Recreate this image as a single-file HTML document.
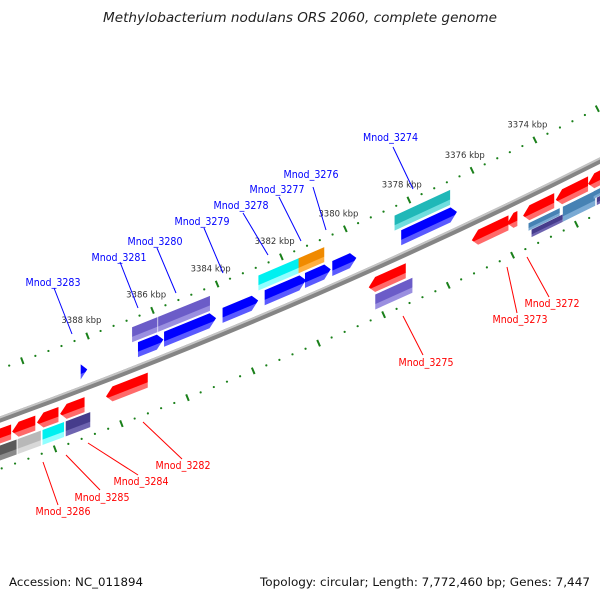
<!DOCTYPE html>
<html><head><meta charset="utf-8"><style>
html,body{margin:0;padding:0;background:#fff;}
svg{display:block;font-family:"DejaVu Sans","Liberation Sans",sans-serif;}
</style></head><body>
<svg id="chart" width="600" height="600" viewBox="0 0 600 600" xmlns="http://www.w3.org/2000/svg">
<rect width="600" height="600" fill="#fff"/>
<text x="300" y="22" text-anchor="middle" font-size="13" font-style="italic" fill="#222" textLength="394" lengthAdjust="spacingAndGlyphs">Methylobacterium nodulans ORS 2060, complete genome</text>
<g id="tracks"></g>
<g id="genes"></g>
<g id="labels" font-size="10.5">
<g fill="#0000ff">
<line x1="393" y1="147" x2="413" y2="189" stroke="#0000ff"/>
<text x="390.5" y="141" text-anchor="middle" textLength="55" lengthAdjust="spacingAndGlyphs">Mnod_3274</text>
<line x1="313" y1="187" x2="326" y2="230" stroke="#0000ff"/>
<text x="311" y="178" text-anchor="middle" textLength="55" lengthAdjust="spacingAndGlyphs">Mnod_3276</text>
<line x1="279" y1="197" x2="301" y2="241" stroke="#0000ff"/>
<text x="277" y="193" text-anchor="middle" textLength="55" lengthAdjust="spacingAndGlyphs">Mnod_3277</text>
<line x1="243" y1="213" x2="268" y2="255" stroke="#0000ff"/>
<text x="241" y="209" text-anchor="middle" textLength="55" lengthAdjust="spacingAndGlyphs">Mnod_3278</text>
<line x1="204" y1="228" x2="223" y2="273" stroke="#0000ff"/>
<text x="202" y="225" text-anchor="middle" textLength="55" lengthAdjust="spacingAndGlyphs">Mnod_3279</text>
<line x1="157" y1="248" x2="176" y2="293" stroke="#0000ff"/>
<text x="155" y="245" text-anchor="middle" textLength="55" lengthAdjust="spacingAndGlyphs">Mnod_3280</text>
<line x1="120" y1="262" x2="138" y2="308" stroke="#0000ff"/>
<text x="119" y="261" text-anchor="middle" textLength="55" lengthAdjust="spacingAndGlyphs">Mnod_3281</text>
<line x1="54" y1="288" x2="72" y2="334" stroke="#0000ff"/>
<text x="53" y="286" text-anchor="middle" textLength="55" lengthAdjust="spacingAndGlyphs">Mnod_3283</text>
</g>
<g fill="#ff0000">
<line x1="527" y1="257" x2="549" y2="297" stroke="#ff0000"/>
<text x="552" y="307" text-anchor="middle" textLength="55" lengthAdjust="spacingAndGlyphs">Mnod_3272</text>
<line x1="507" y1="267" x2="517" y2="313" stroke="#ff0000"/>
<text x="520" y="323" text-anchor="middle" textLength="55" lengthAdjust="spacingAndGlyphs">Mnod_3273</text>
<line x1="403" y1="316" x2="423" y2="355" stroke="#ff0000"/>
<text x="426" y="366" text-anchor="middle" textLength="55" lengthAdjust="spacingAndGlyphs">Mnod_3275</text>
<line x1="143" y1="422" x2="182" y2="459" stroke="#ff0000"/>
<text x="183" y="469" text-anchor="middle" textLength="55" lengthAdjust="spacingAndGlyphs">Mnod_3282</text>
<line x1="88" y1="443" x2="138" y2="475" stroke="#ff0000"/>
<text x="141" y="485" text-anchor="middle" textLength="55" lengthAdjust="spacingAndGlyphs">Mnod_3284</text>
<line x1="66" y1="455" x2="100" y2="490" stroke="#ff0000"/>
<text x="102" y="501" text-anchor="middle" textLength="55" lengthAdjust="spacingAndGlyphs">Mnod_3285</text>
<line x1="43" y1="462" x2="58" y2="505" stroke="#ff0000"/>
<text x="63" y="515" text-anchor="middle" textLength="55" lengthAdjust="spacingAndGlyphs">Mnod_3286</text>
</g>
</g>
<text x="9" y="586" font-size="11.5" fill="#111" textLength="134" lengthAdjust="spacingAndGlyphs">Accession: NC_011894</text>
<text x="260" y="586" font-size="11.5" fill="#111" textLength="330" lengthAdjust="spacingAndGlyphs">Topology: circular; Length: 7,772,460 bp; Genes: 7,447</text>
</svg>
<script>
// ---- data (kbp) ----
const fwdStart = [3388.55, 3386.8, 3386.0, 3384.2, 3382.9, 3381.65, 3380.8, 3378.65];
const fwdEnd   = [3388.35, 3386.02, 3384.4, 3383.1, 3381.62, 3380.85, 3380.05, 3376.9];
const fwdCog   = ['', 'slate', 'slate', '', 'cyan', 'orange', '', 'teal'];
const revStart = [3392.3, 3390.97, 3390.22, 3389.52, 3388.13, 3380.07, 3376.86, 3375.75, 3375.25, 3374.22, 3373.2];
const revEnd   = [3391.0, 3390.27, 3389.57, 3388.78, 3386.86, 3378.92, 3375.71, 3375.43, 3374.27, 3373.2, 3371.9];
const revCog   = ['dgray', 'lgray', 'cyan', 'dslate', '', 'slate', '', '', 'steel|dslate', 'steel', 'steel|dslate'];
const tickLabels = [3374, 3376, 3378, 3380, 3382, 3384, 3386, 3388];
const tickMin = 3370, tickMax = 3394;

const NS = 'http://www.w3.org/2000/svg';
const A = [0, 419], B = [300, 300], C = [600, 160];
function circ(a, b, c) {
  const d = 2 * (a[0] * (b[1] - c[1]) + b[0] * (c[1] - a[1]) + c[0] * (a[1] - b[1]));
  const s = p => p[0] * p[0] + p[1] * p[1];
  const ux = (s(a) * (b[1] - c[1]) + s(b) * (c[1] - a[1]) + s(c) * (a[1] - b[1])) / d;
  const uy = (s(a) * (c[0] - b[0]) + s(b) * (a[0] - c[0]) + s(c) * (b[0] - a[0])) / d;
  return [ux, uy, Math.hypot(a[0] - ux, a[1] - uy)];
}
const [cx, cy, R] = circ(A, B, C);
const th0 = Math.atan2(B[1] - cy, B[0] - cx);
const thC = Math.atan2(C[1] - cy, C[0] - cx);
const sgn = -Math.sign(thC - th0);
const SC = 35.2, K0 = 3382;
function theta(k) { return th0 + sgn * (k - K0) * SC / R; }
function pt(k, r) { const t = theta(k); return [cx + r * Math.cos(t), cy + r * Math.sin(t)]; }
function tanVec(k) { const t = theta(k); return [sgn * Math.sin(t), -sgn * Math.cos(t)]; }
function el(tag, attrs, parent) { const e = document.createElementNS(NS, tag); for (const a in attrs) e.setAttribute(a, attrs[a]); parent.appendChild(e); return e; }

const COL = {
  red: ['#ff0000', '#ff6a6a'], blue: ['#0000ff', '#5a5aff'], slate: ['#6b5cc8', '#9a8fe0'],
  cyan: ['#00f0f0', '#90ffff'], orange: ['#f08a00', '#ffb040'], teal: ['#20b8b8', '#70dede'],
  dgray: ['#5a5a5a', '#8a8a8a'], lgray: ['#b8b8b8', '#d8d8d8'], dslate: ['#463c8c', '#6e64b0'],
  steel: ['#4682b4', '#7aaad4']
};
const defs = el('defs', {}, document.getElementById('chart'));
for (const k in COL) {
  const g = el('linearGradient', { id: 'g-' + k, x1: 0, y1: 0, x2: 0, y2: 1 }, defs);
  el('stop', { offset: '0', 'stop-color': COL[k][0] }, g);
  el('stop', { offset: '0.62', 'stop-color': COL[k][0] }, g);
  el('stop', { offset: '0.66', 'stop-color': COL[k][1] }, g);
  el('stop', { offset: '1', 'stop-color': COL[k][1] }, g);
}

// ---- tracks ----
const tracks = document.getElementById('tracks');
function arcPath(r, k1, k2) {
  const p1 = pt(k1, r), p2 = pt(k2, r);
  const sweep = sgn > 0 ? 0 : 1;
  return `M${p1[0]},${p1[1]} A${r},${r} 0 0 ${sweep} ${p2[0]},${p2[1]}`;
}
const bb = el('path', { d: arcPath(R + 0.5, 3396, 3368), stroke: '#858585', 'stroke-width': 6, fill: 'none' }, tracks);


const bbh = el('path', { d: arcPath(R - 1.5, 3396, 3368), stroke: '#c4c4c4', 'stroke-width': 2, fill: 'none' }, tracks);



const nSteps = Math.round((tickMax - tickMin) / 0.4);
for (let n = 0; n <= nSteps; n++) {
  const k = tickMin + n * 0.4;
  const major = n % 5 === 0;
  for (const r of [R - 47, R + 47]) {
    if (major) {
      const a = pt(k, r - 3.5), b = pt(k, r + 3.5);
      const t = el('line', { x1: a[0], y1: a[1], x2: b[0], y2: b[1], stroke: '#1a801a', 'stroke-width': 2 }, tracks);
      
      
    } else {
      const p = pt(k, r);
      const t = el('circle', { cx: p[0], cy: p[1], r: 1.1, fill: '#1a801a' }, tracks);
      
      
    }
  }
}
tickLabels.forEach(k => {
  const p = pt(k, R - 47 - 17);
  const t = el('text', { x: p[0], y: p[1] + 3, 'text-anchor': 'middle', 'font-size': 8.5, fill: '#333' }, tracks);
  t.textContent = k + ' kbp';
  
  
});

// ---- genes ----
const genes = document.getElementById('genes');
function drawShape(k1, k2, r, h, color, dir, name) {
  const km = (k1 + k2) / 2;
  const p = pt(km, r);
  const L = Math.abs(k1 - k2) * SC * r / R;
  const tv = tanVec(km);
  const g = el('g', { transform: `matrix(${tv[0]},${tv[1]},0,1,${p[0]},${p[1]})` }, genes);
  
  
  const x0 = -L / 2, x1 = L / 2, y0 = -h / 2, y1 = h / 2;
  let pts;
  const head = Math.min(7, L);
  if (dir === 1) pts = [[x0, y0], [x1 - head, y0], [x1, 0], [x1 - head, y1], [x0, y1]];
  else if (dir === -1) pts = [[x1, y0], [x0 + head, y0], [x0, 0], [x0 + head, y1], [x1, y1]];
  else pts = [[x0, y0], [x1, y0], [x1, y1], [x0, y1]];
  el('polygon', { points: pts.map(q => q.join(',')).join(' '), fill: `url(#g-${color})` }, g);
}
function drawCog(k1, k2, r, cog, name) {
  const parts = cog.split('|');
  if (parts.length === 1) { drawShape(k1, k2, r, 15, parts[0], 0, name); return; }
  drawShape(k1, k2, r - 3.5, 7.5, parts[0], 0, name + '-a');
  drawShape(k1, k2, r + 3.5, 7.5, parts[1], 0, name + '-b');
}
fwdStart.forEach((s, i) => {
  drawShape(s, fwdEnd[i], R - 16, 15, 'blue', 1, 'forward-gene');
  if (fwdCog[i]) drawCog(s, fwdEnd[i], R - 32, fwdCog[i], 'forward-gene-cog');
});
revStart.forEach((s, i) => {
  drawShape(s, revEnd[i], R + 16, 15, 'red', -1, 'reverse-gene');
  if (revCog[i]) drawCog(s, revEnd[i], R + 32, revCog[i], 'reverse-gene-cog');
});
</script>
</body></html>
